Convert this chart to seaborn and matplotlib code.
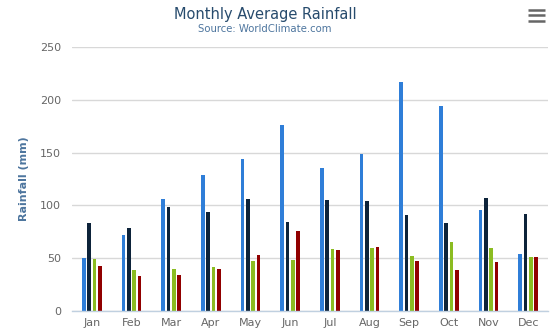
import numpy as np
import pandas as pd
import matplotlib
matplotlib.use("Agg")
import matplotlib.pyplot as plt
import seaborn as sns
from matplotlib.lines import Line2D

months = ["Jan", "Feb", "Mar", "Apr", "May", "Jun", "Jul", "Aug", "Sep", "Oct", "Nov", "Dec"]
tokyo = [49.9, 71.5, 106.4, 129.2, 144.0, 176.0, 135.6, 148.5, 216.4, 194.1, 95.6, 54.4]
new_york = [83.6, 78.8, 98.5, 93.4, 106.0, 84.5, 105.0, 104.3, 91.2, 83.5, 106.6, 92.3]
london = [48.9, 38.8, 39.3, 41.4, 47.0, 48.3, 59.0, 59.6, 52.4, 65.2, 59.3, 51.2]
berlin = [42.4, 33.2, 34.5, 39.7, 52.6, 75.5, 57.4, 60.4, 47.6, 39.1, 46.8, 51.1]
series_names = ["Tokyo", "New York", "London", "Berlin"]
colors = ["#2f7ed8", "#0d233a", "#8bbc21", "#910000"]

rows = []
for name, vals in zip(series_names, [tokyo, new_york, london, berlin]):
    for m, v in zip(months, vals):
        rows.append({"Month": m, "City": name, "Rainfall": v})
df = pd.DataFrame(rows)

sns.set_theme(style="white")
plt.rcParams["font.family"] = ["DejaVu Sans"]

W, H = 558, 336
fig = plt.figure(figsize=(W / 100, H / 100), dpi=100)
ax = fig.add_axes([72 / W, 1 - 311 / H, (548 - 72) / W, (311 - 47) / H])

sns.barplot(data=df, x="Month", y="Rainfall", hue="City", order=months,
            hue_order=series_names, palette=colors, width=0.54, gap=0.3,
            saturation=1, ax=ax, legend=False, linewidth=0)

ax.set_ylim(0, 250)
ax.set_xlim(-0.5, 11.5)
ax.set_yticks([0, 50, 100, 150, 200, 250])
ax.yaxis.grid(True, color="#d8d8d8", linewidth=1)
ax.set_axisbelow(True)
for s in ["top", "right", "left"]:
    ax.spines[s].set_visible(False)
ax.spines["bottom"].set_color("#C0D0E0")
ax.spines["bottom"].set_linewidth(1)

ax.tick_params(axis="y", length=0, pad=8, labelsize=8, labelcolor="#666666")
ax.tick_params(axis="x", which="major", length=0, pad=5, labelsize=8, labelcolor="#666666")
ax.set_xticks(np.arange(-0.5, 12, 1), minor=True)
ax.tick_params(axis="x", which="minor", length=5, width=1, color="#C0D0E0", direction="out")

ax.set_xlabel("")
ax.set_ylabel("Rainfall (mm)", fontsize=8, fontweight="bold", color="#4d759e")
ax.yaxis.set_label_coords((29 - 72) / 476, 0.5)

fig.text(265 / W, 1 - 14 / H, "Monthly Average Rainfall", ha="center", va="center",
         fontsize=10.5, color="#274b6d")
fig.text(265 / W, 1 - 29.5 / H, "Source: WorldClimate.com", ha="center", va="center",
         fontsize=7.3, color="#4d759e")

# menu icon
for yy in [10, 15.3, 20.5]:
    fig.add_artist(Line2D([528 / W, 545 / W], [1 - yy / H, 1 - yy / H], color="#666666",
                          linewidth=1.8, solid_capstyle="butt"))

fig.savefig("out.png", dpi=100)
